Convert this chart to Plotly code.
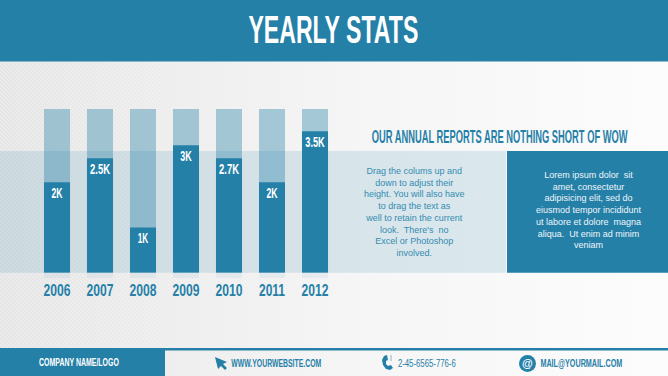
import json
import urllib.parse
import plotly.graph_objects as go

years = ["2006", "2007", "2008", "2009", "2010", "2011", "2012"]
heights = [2.0, 2.53, 1.0, 2.82, 2.53, 2.0, 3.13]
full_scale = [3.62] * 7
labels = ["2K", "2.5K", "1K", "3K", "2.7K", "2K", "3.5K"]

BLUE = "#2580a8"
W, H = 668, 376
NARROW = "Liberation Sans Narrow, Liberation Sans, sans-serif"
BODY = "Liberation Sans, Arial, sans-serif"

# Rendered width in pixels for the condensed display lettering
condensed_widths = {
    "YEARLY STATS": 170,
    "OUR ANNUAL REPORTS ARE NOTHING SHORT OF WOW": 256,
    "COMPANY NAME/LOGO": 80,
    "WWW.YOURWEBSITE.COM": 90,
    "2-45-6565-776-6": 58,
    "MAIL@YOURMAIL.COM": 82,
    "2K": 11, "2.5K": 20, "1K": 10.5, "3K": 11.5, "2.7K": 20, "3.5K": 19.5,
    "2006": 27, "2007": 27, "2008": 27, "2009": 27, "2010": 27, "2011": 26, "2012": 27,
}


def px(x):
    return x / W


def py(y):
    return 1 - y / H


svg = f"""<svg xmlns='http://www.w3.org/2000/svg' width='{W}' height='{H}'>
<defs>
<linearGradient id='g' x1='0' y1='0' x2='1' y2='0'>
<stop offset='0' stop-color='#e6e6e6'/><stop offset='0.55' stop-color='#f5f5f5'/><stop offset='1' stop-color='#fcfcfc'/>
</linearGradient>
<pattern id='p' width='4' height='4' patternUnits='userSpaceOnUse'>
<path d='M-1 -1 L5 5 M-1 3 L1 5 M3 -1 L5 1' stroke='#ffffff' stroke-opacity='0.3' stroke-width='1'/>
</pattern>
</defs>
<rect width='{W}' height='{H}' fill='url(#g)'/>
<rect width='{W}' height='{H}' fill='url(#p)'/>
</svg>"""
bg_uri = "data:image/svg+xml;charset=utf-8," + urllib.parse.quote(svg)


def rect(x0, y0, x1, y1, color, layer="below"):
    return dict(type="rect", xref="paper", yref="paper", x0=px(x0), x1=px(x1), y0=py(y1), y1=py(y0),
                fillcolor=color, line_width=0, layer=layer)


def path(points, color):
    d = "M" + " L".join(f"{px(x):.5f},{py(y):.5f}" for x, y in points) + " Z"
    return dict(type="path", xref="paper", yref="paper", path=d, fillcolor=color, line_width=0, layer="above")


def text(x, y, s, size, color=BLUE, family=NARROW, bold=False):
    return dict(xref="paper", yref="paper", x=px(x), y=py(y), text=f"<b>{s}</b>" if bold else s, showarrow=False,
                font=dict(size=size, color=color, family=family), xanchor="center", yanchor="middle", align="center")


fig = go.Figure()
fig.add_bar(x=years, y=full_scale, marker_color="rgba(37,128,168,0.38)", marker_line_width=0, width=0.605,
            hoverinfo="skip", showlegend=False)
fig.add_bar(x=years, y=heights, marker_color=BLUE, marker_line_width=0, width=0.605, showlegend=False,
            text=[f"<b>{t}</b>" for t in labels], textposition="inside", insidetextanchor="end",
            constraintext="none", textangle=0,
            insidetextfont=dict(size=14, color="#ffffff", family=NARROW), cliponaxis=False)

shapes = [
    rect(0, 0, 668, 61.5, BLUE),
    rect(0, 151, 506, 272.7, "rgba(37,128,168,0.14)"),
    rect(507, 151, 668, 272.7, BLUE),
    rect(0, 348, 668, 350.5, BLUE),
    rect(0, 348, 165, 376, BLUE),
    # cursor icon
    path([(215, 357), (227, 362), (223, 364), (227, 368), (225, 370), (221, 366), (218, 369)], BLUE),
    # phone icon
    path([(384, 356), (387, 355), (388, 360), (386, 361), (386, 364), (388, 366), (391, 365), (393, 368),
          (390, 370), (386, 369), (383, 365), (382, 360)], BLUE),
    path([(390, 355), (392, 355), (392, 361), (390, 361)], "rgba(37,128,168,0.25)"),
    # at-sign disc
    dict(type="circle", xref="paper", yref="paper", x0=px(519), x1=px(536), y0=py(372), y1=py(355),
         fillcolor=BLUE, line_width=0, layer="above"),
]
# soft reflection below every column
for i in range(len(years)):
    shapes.append(dict(type="rect", xref="x", yref="paper", x0=i - 0.3025, x1=i + 0.3025, y0=py(278), y1=py(273),
                       fillcolor="rgba(37,128,168,0.07)", line_width=0, layer="below"))

annotations = [
    text(333.5, 30, "YEARLY STATS", 39, "#ffffff", bold=True),
    text(499.5, 137, "OUR ANNUAL REPORTS ARE NOTHING SHORT OF WOW", 18, bold=True),
    text(414.5, 212, "Drag the colums up and<br>down to adjust their<br>height. You will also have<br>to drag the text as<br>well to retain the current<br>look.  There's  no<br>Excel or Photoshop<br>involved.", 9, "#358cb0", BODY),
    text(589, 210, "Lorem ipsum dolor  sit<br>amet, consectetur<br>adipisicing elit, sed do<br>eiusmod tempor incididunt<br>ut labore et dolore  magna<br>aliqua.  Ut enim ad minim<br>veniam", 9, "#eef6fa", BODY),
    text(79, 362, "COMPANY NAME/LOGO", 11.5, "#ffffff", bold=True),
    text(276, 363, "WWW.YOURWEBSITE.COM", 11.5, bold=True),
    text(427, 363, "2-45-6565-776-6", 11.5),
    text(581, 363, "MAIL@YOURMAIL.COM", 11.5, bold=True),
    text(527.5, 363, "@", 11, "#ffffff", BODY, True),
]

fig.update_layout(
    width=W, height=H, margin=dict(l=0, r=0, t=0, b=0), autosize=False,
    paper_bgcolor="#f2f2f2", plot_bgcolor="rgba(0,0,0,0)",
    barmode="overlay", shapes=shapes, annotations=annotations,
    images=[dict(source=bg_uri, xref="paper", yref="paper", x=0, y=1, sizex=1, sizey=1,
                 sizing="stretch", xanchor="left", yanchor="top", layer="below")],
    xaxis=dict(type="category", domain=[px(35.5), px(336.5)], range=[-0.5, 6.5], showgrid=False, zeroline=False,
               showline=False, ticks="", ticklabelstandoff=5, tickangle=0, automargin=False,
               tickfont=dict(size=17, color=BLUE, family=NARROW, weight=700)),
    yaxis=dict(domain=[py(272.7), py(109)], range=[0, 3.62], showgrid=False, zeroline=False, showline=False,
               showticklabels=False, ticks="", automargin=False),
    showlegend=False,
)

post = """
document.body.style.margin='0';document.body.style.overflow='hidden';
var widths = %s;
document.querySelectorAll('svg text').forEach(function(t){
  if ((t.style.fontFamily||'').indexOf('Narrow')<0) return;
  var w = widths[t.textContent.trim()];
  if (!w) return;
  var b = t.getBBox(); if (!b.width) return;
  var cx = b.x + b.width/2, s = w/b.width;
  var old = t.getAttribute('transform')||'';
  t.setAttribute('transform', old+' translate('+cx+' 0) scale('+s+' 1) translate('+(-cx)+' 0)');
});
""" % json.dumps(condensed_widths)

fig.write_html("out.html", config=dict(displayModeBar=False, responsive=False),
               default_width=f"{W}px", default_height=f"{H}px", post_script=post)
